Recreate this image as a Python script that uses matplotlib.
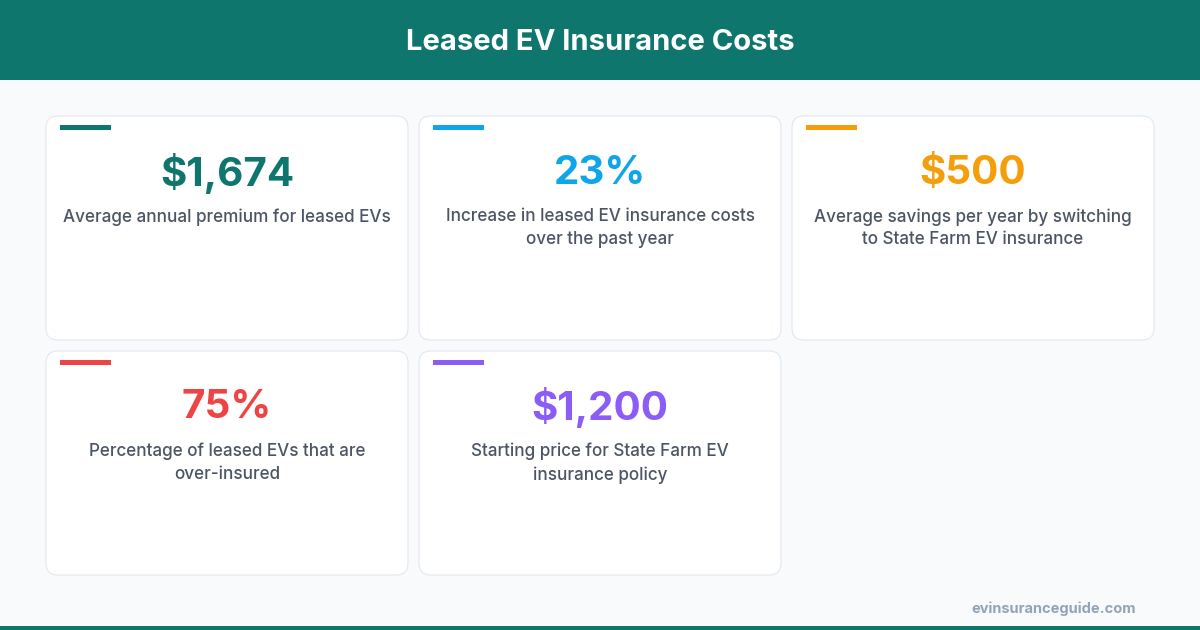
import matplotlib.pyplot as plt
from matplotlib.patches import FancyBboxPatch, Rectangle

W, H = 1200, 630

title = "Leased EV Insurance Costs"
values = ["$1,674", "23%", "$500", "75%", "$1,200"]
labels = [
    "Average annual premium for leased EVs",
    "Increase in leased EV insurance costs\nover the past year",
    "Average savings per year by switching\nto State Farm EV insurance",
    "Percentage of leased EVs that are\nover-insured",
    "Starting price for State Farm EV\ninsurance policy",
]
colors = ["#0f766e", "#0ea5e9", "#f59e0b", "#ef4444", "#8b5cf6"]
source = "evinsuranceguide.com"

plt.rcParams['font.family'] = ['Inter', 'DejaVu Sans']

fig = plt.figure(figsize=(W / 100, H / 100), dpi=100)
fig.patch.set_facecolor("#f8fafc")
ax = fig.add_axes([0, 0, 1, 1])
ax.set_xlim(0, W)
ax.set_ylim(H, 0)
ax.axis("off")

# header band and bottom line
ax.add_patch(Rectangle((0, 0), W, 80, color="#0f766e", lw=0))
ax.add_patch(Rectangle((0, 626), W, 4, color="#0f766e", lw=0))
ax.text(W / 2, 43, title, color="white", fontsize=21, fontweight="bold",
        ha="center", va="center")

card_w, card_h = 362, 224
x0s = [46, 419, 792]
y0s = [116, 351]

for i, (val, lab, col) in enumerate(zip(values, labels, colors)):
    x = x0s[i % 3]
    y = y0s[i // 3]
    ax.add_patch(FancyBboxPatch((x, y), card_w, card_h,
                                boxstyle="round,pad=0,rounding_size=12",
                                fc="white", ec="#e2e8f0", lw=0.8))
    ax.add_patch(Rectangle((x + 14, y + 9), 51, 4.5, color=col, lw=0))
    ax.text(x + card_w / 2, y + 57, val, color=col, fontsize=29,
            fontweight="bold", ha="center", va="center")
    ax.text(x + card_w / 2, y + 92, lab, color="#4b5563", fontsize=12.3,
            fontweight="medium", ha="center", va="top", linespacing=1.45)

ax.text(1136, 609, source, color="#94a3b8", fontsize=10.5, fontweight="bold",
        ha="right", va="center")

fig.savefig("out.png", dpi=100, facecolor=fig.get_facecolor())
